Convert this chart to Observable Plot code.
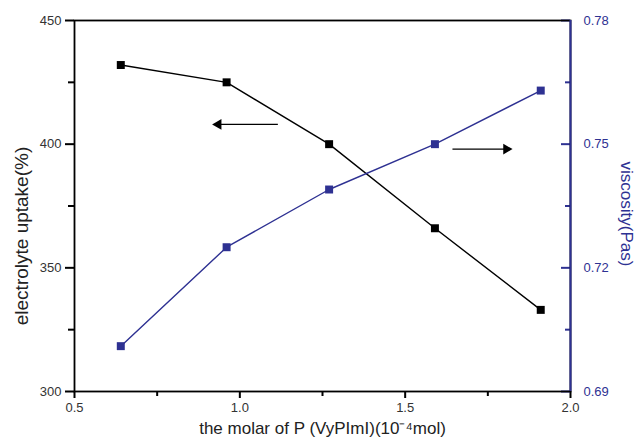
<!DOCTYPE html>
<html><head><meta charset="utf-8">
<script src="https://cdn.jsdelivr.net/npm/d3@7"></script>
<script src="https://cdn.jsdelivr.net/npm/@observablehq/plot@0.6"></script>
<style>body{margin:0;background:#fff}</style>
</head><body><div id="chart"></div>
<script>
const molar = [0.64, 0.96, 1.27, 1.59, 1.91];
const uptake = [432, 425, 400, 366, 333];
const viscosity = [0.701, 0.725, 0.739, 0.750, 0.763];
const xTicks = [0.5, 1.0, 1.5, 2.0];
const xMinor = [0.75, 1.25, 1.75];
const leftTicks = [300, 350, 400, 450];
const leftMinor = [325, 375, 425];
const rightTicks = [0.69, 0.72, 0.75, 0.78];
const rightMinor = [0.705, 0.735, 0.765];
const arrows = [
  {x1: 1.115, x2: 0.935, y: 408, dir: -1},
  {x1: 1.643, x2: 1.806, y: 398, dir: 1}
];

const blue = "#2e3192";
const W = 635, H = 442, mL = 74, mR = 65, mT = 20, mB = 51;
const pw = W - mL - mR;
const xDom = [0.5, 2.0];
const rDom = [0.69, 0.78], lDom = [300, 450];
const kx = (xDom[1] - xDom[0]) / pw;
const toLeft = v => lDom[0] + (v - rDom[0]) * (lDom[1] - lDom[0]) / (rDom[1] - rDom[0]);
const fromLeft = v => rDom[0] + (v - lDom[0]) * (rDom[1] - rDom[0]) / (lDom[1] - lDom[0]);

const black = molar.map((x, i) => ({x, y: uptake[i]}));
const visc = molar.map((x, i) => ({x, y: toLeft(viscosity[i])}));

const chart = Plot.plot({
  width: W, height: H,
  marginLeft: mL, marginRight: mR, marginTop: mT, marginBottom: mB,
  style: {fontFamily: "'Liberation Sans', Arial, sans-serif", fontSize: "13px"},
  x: {domain: xDom},
  y: {domain: lDom},
  marks: [
    Plot.axisX({ticks: xTicks, tickFormat: d3.format(".1f"), tickSize: 7, tickPadding: 4, label: null, stroke: "#000", strokeWidth: 2, fill: "#333"}),
    Plot.axisX({ticks: xMinor, tickFormat: () => "", tickSize: 5, label: null, stroke: "#000", strokeWidth: 2}),
    Plot.axisY({ticks: leftTicks, tickSize: 9, tickPadding: 4, label: null, stroke: "#000", strokeWidth: 2, fill: "#333"}),
    Plot.axisY({ticks: leftMinor, tickFormat: () => "", tickSize: 6, label: null, stroke: "#000", strokeWidth: 2}),
    Plot.axisY({anchor: "right", ticks: rightTicks.map(toLeft), tickFormat: d => d3.format(".2f")(fromLeft(d)), tickSize: 0, tickPadding: 13, label: null, fill: blue}),
    Plot.ruleY(rightTicks.map(toLeft), {x1: xDom[1], x2: xDom[1] - 9 * kx, stroke: blue, strokeWidth: 2}),
    Plot.ruleY(rightMinor.map(toLeft), {x1: xDom[1], x2: xDom[1] - 5 * kx, stroke: blue, strokeWidth: 2}),
    Plot.frame({stroke: "#000", strokeWidth: 1.8}),
    Plot.ruleX([xDom[1]], {stroke: blue, strokeWidth: 2}),
    Plot.line(black, {x: "x", y: "y", stroke: "#000", strokeWidth: 1.4}),
    Plot.dot(black, {x: "x", y: "y", symbol: "square", r: 4.5, fill: "#000"}),
    Plot.line(visc, {x: "x", y: "y", stroke: blue, strokeWidth: 1.4}),
    Plot.dot(visc, {x: "x", y: "y", symbol: "square", r: 4.5, fill: blue}),
    Plot.link(arrows, {x1: "x1", x2: "x2", y1: "y", y2: "y", stroke: "#000", strokeWidth: 1.4}),
    Plot.dot(arrows, {x: "x2", y: "y", symbol: "triangle", r: 4, fill: "#000", rotate: d => d.dir * 90}),
    Plot.text(["electrolyte uptake(%)"], {frameAnchor: "left", textAnchor: "middle", dx: -53, dy: 30, rotate: -90, fontSize: 19, fill: "#222"}),
    Plot.text(["viscosity(Pas)"], {frameAnchor: "right", textAnchor: "middle", dx: 56, dy: 8, rotate: 90, fontSize: 17, fill: blue}),
    Plot.text(["the molar of P (VyPImI)(10⁻⁴mol)"], {frameAnchor: "bottom", dy: 42, fontSize: 17, fill: "#222"})
  ]
});
document.getElementById("chart").appendChild(chart);
</script></body></html>
